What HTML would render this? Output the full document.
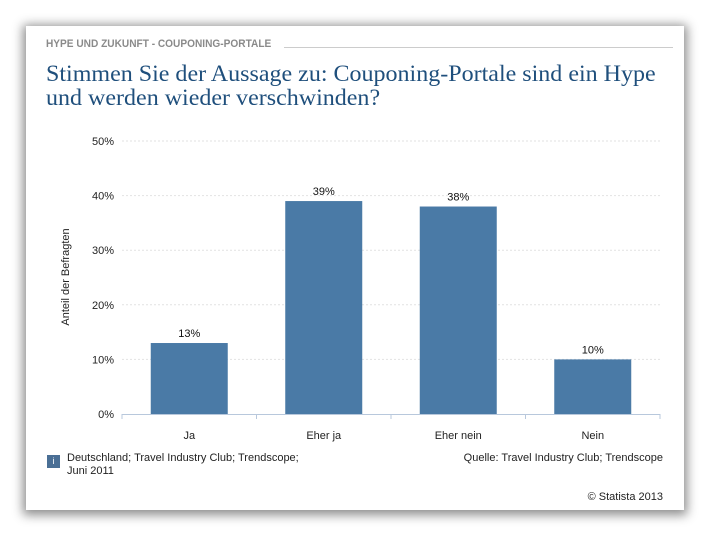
<!DOCTYPE html>
<html><head><meta charset="utf-8"><style>
body{margin:0;width:710px;height:536px;background:#fff;position:relative;overflow:hidden;font-family:"Liberation Sans",sans-serif}
#card{position:absolute;left:26px;top:26px;width:658px;height:484px;background:#fff;box-shadow:0 2px 10px 3px rgba(0,0,0,.45)}
.t{position:absolute;white-space:nowrap}
</style></head><body>
<div id="card"></div>
<div class="t" style="left:46px;top:38px;font-size:11px;font-weight:bold;color:#8a8a8a;transform:scaleX(0.92);transform-origin:0 0">HYPE UND ZUKUNFT - COUPONING-PORTALE</div>
<div style="position:absolute;left:284px;top:47px;width:389px;height:1px;background:#ccc"></div>
<div class="t" style="left:46px;top:62px;font-family:'Liberation Serif',serif;font-size:23.5px;line-height:24px;color:#1f4f7c;transform:scaleX(1.022);transform-origin:0 0">Stimmen Sie der Aussage zu: Couponing-Portale sind ein Hype<br>und werden wieder verschwinden?</div>
<svg id="chart" width="710" height="536" style="position:absolute;left:0;top:0"></svg>
<div class="t" style="left:47px;top:455px;width:13px;height:13px;background:#4a6f95;color:#fff;font-size:9px;text-align:center;line-height:13px">i</div>
<div class="t" style="left:67px;top:452px;font-size:11px;line-height:13px;color:#222">Deutschland; Travel Industry Club; Trendscope;<br>Juni 2011</div>
<div class="t" style="right:47px;top:452px;font-size:11px;color:#222">Quelle: Travel Industry Club; Trendscope</div>
<div class="t" style="right:47px;top:491px;font-size:11px;color:#222">© Statista 2013</div>
<script>
const categories=["Ja","Eher ja","Eher nein","Nein"];
const values=[13,39,38,10];
const tickValues=[0,10,20,30,40,50];
const ns="http://www.w3.org/2000/svg",svg=document.getElementById('chart');
const X0=122,X1=660,Y0=414,Y50=141;
const y=v=>Y0-(v/50)*(Y0-Y50);
const bw=(X1-X0)/categories.length;
function mk(t,a,txt){const e=document.createElementNS(ns,t);for(const k in a)e.setAttribute(k,a[k]);if(txt!=null)e.textContent=txt;svg.appendChild(e);return e;}
tickValues.forEach(v=>{
 if(v>0){const g=mk('line',{x1:X0,x2:X1,y1:y(v),y2:y(v),stroke:'#e2e2e2','stroke-dasharray':'2,2'});
 
 }
 const t=mk('text',{x:114,y:y(v)+4,'text-anchor':'end','font-size':11,fill:'#222','font-family':'Liberation Sans'},v+'%');
 
 
});
const ax=mk('line',{x1:X0,x2:X1,y1:Y0+0.5,y2:Y0+0.5,stroke:'#b8c8dc'});


for(let i=0;i<=categories.length;i++){const tk=mk('line',{x1:X0+i*bw,x2:X0+i*bw,y1:Y0,y2:Y0+5,stroke:'#b8c8dc'});
 
 }
categories.forEach((c,i)=>{
 const cx=X0+bw*(i+0.5);
 const r=mk('rect',{x:cx-38.5,y:y(values[i]),width:77,height:Y0-y(values[i]),fill:'#4a7aa6'});
 
 
 const l=mk('text',{x:cx,y:y(values[i])-6,'text-anchor':'middle','font-size':11,fill:'#111','font-family':'Liberation Sans'},values[i]+'%');
 
 
 const xl=mk('text',{x:cx,y:439,'text-anchor':'middle','font-size':11,fill:'#222','font-family':'Liberation Sans'},c);
 
 
});
const yt=mk('text',{x:0,y:0,transform:'translate(69,277) rotate(-90)','text-anchor':'middle','font-size':11,fill:'#222','font-family':'Liberation Sans'},'Anteil der Befragten');


</script>
</body></html>
